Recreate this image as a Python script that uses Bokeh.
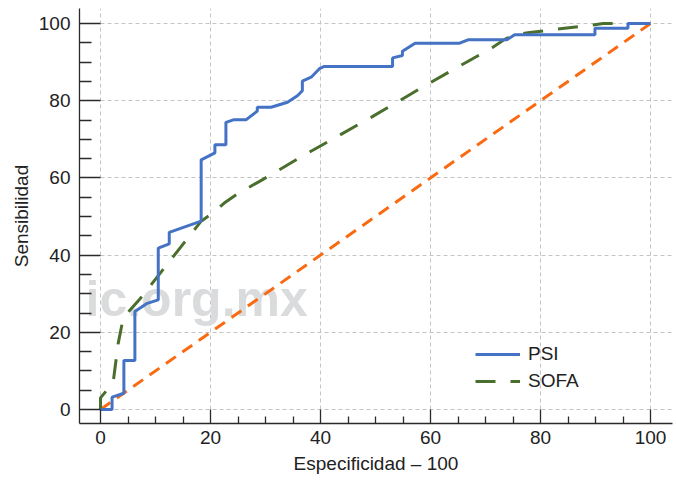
from bokeh.plotting import figure
from bokeh.models import Range1d, FixedTicker, Legend, LegendItem, Label
from bokeh.embed import file_html
from bokeh.resources import INLINE

# ---- data ----
psi_x = [0, 2.1, 2.1, 4.25, 4.25, 6.25, 6.25, 8.5, 10.5, 10.5, 12.5, 12.5, 18.3, 18.3,
         20.8, 20.8, 22.8, 22.8, 24.3, 26.5, 28.5, 28.5, 31.0, 34.0, 35.8, 36.7, 36.7,
         38.3, 39.8, 40.7, 53.1, 53.1, 54.9, 54.9, 57.2, 65.3, 66.8, 73.9, 75.3, 89.9,
         89.9, 95.9, 95.9, 100]
psi_y = [0, 0, 3.2, 4.2, 12.7, 12.7, 25.4, 27.5, 28.4, 41.8, 42.9, 45.9, 48.8, 64.7,
         66.5, 68.6, 68.6, 74.4, 75.1, 75.1, 77.3, 78.3, 78.3, 79.6, 81.3, 82.6, 85.1,
         86.1, 88.3, 88.9, 88.9, 91.1, 91.7, 92.8, 94.9, 94.9, 95.8, 95.8, 97.1, 97.1,
         98.8, 98.8, 100, 100]

sofa_x = [0, 0, 2.3, 3.2, 4.1, 5.0, 7.2, 18.3, 20.6, 22.5, 24.9, 29.4, 36.4, 49.2,
          60.1, 71.4, 73.5, 75.3, 77.7, 85.6, 89.3, 91.4, 100]
sofa_y = [0, 3, 7, 17, 23.5, 25.2, 28.7, 48.8, 51.1, 53.5, 55.9, 59.5, 65.4, 75.7,
          84.8, 93.9, 95.9, 97.1, 97.6, 99.0, 99.6, 100, 100]

ref_x = [0, 100]
ref_y = [0, 100]

x_ticks = [0, 20, 40, 60, 80, 100]
y_ticks = [0, 20, 40, 60, 80, 100]
minor_ticks = [5, 10, 15, 25, 30, 35, 45, 50, 55, 65, 70, 75, 85, 90, 95]

series_labels = ["PSI", "SOFA"]
x_label = "Especificidad \u2013 100"
y_label = "Sensibilidad"
watermark = "ic.org.mx"   # visible (in-frame) part of the cropped watermark

FONT = "Liberation Sans"

p = figure(width=676, height=480, output_backend="svg", toolbar_location=None,
           x_range=Range1d(-3.82, 104.0), y_range=Range1d(-3.63, 103.9),
           min_border_left=79, min_border_right=4, min_border_top=8,
           min_border_bottom=57)
p.outline_line_color = None
p.background_fill_color = "white"

# watermark beneath the curves
p.add_layout(Label(x=6, y=125, x_units="screen", y_units="screen", text=watermark,
                   text_font=FONT, text_font_style="bold", text_font_size="50px",
                   text_color="#dadbdd", text_baseline="alphabetic", level="underlay"))

r_ref = p.line(ref_x, ref_y, line_color="#f96a12", line_width=3, line_dash="12 8")
r_sofa = p.line(sofa_x, sofa_y, line_color="#4a6e2c", line_width=3, line_dash="20 15")
r_psi = p.line(psi_x, psi_y, line_color="#4472c4", line_width=3)

# axes
for ax, ticks in ((p.xaxis[0], x_ticks), (p.yaxis[0], y_ticks)):
    ax.ticker = FixedTicker(ticks=ticks, minor_ticks=minor_ticks)
    ax.axis_line_color = "#2a2a2a"
    ax.axis_line_width = 1.3
    ax.major_tick_line_color = "#2a2a2a"
    ax.minor_tick_line_color = "#2a2a2a"
    ax.major_tick_line_width = 1.3
    ax.minor_tick_line_width = 1.3
    ax.major_tick_out = 0
    ax.minor_tick_out = 0
    ax.major_label_text_font = FONT
    ax.major_label_text_font_size = "19px"
    ax.major_label_text_color = "#222222"
    ax.axis_label_text_font = FONT
    ax.axis_label_text_font_size = "19px"
    ax.axis_label_text_font_style = "normal"
    ax.axis_label_text_color = "#222222"

p.xaxis.major_label_standoff = 7
p.yaxis.major_label_standoff = 9
p.xaxis.major_tick_in = 14
p.xaxis.minor_tick_in = 7
p.yaxis.major_tick_in = 21
p.yaxis.minor_tick_in = 12
p.xaxis.axis_label = x_label
p.yaxis.axis_label = y_label
p.xaxis.axis_label_standoff = 6
p.yaxis.axis_label_standoff = 4

p.grid.grid_line_color = "#c4c4c4"
p.grid.grid_line_dash = "4 3"
p.grid.grid_line_width = 1
p.xgrid.ticker = FixedTicker(ticks=x_ticks)
p.ygrid.ticker = FixedTicker(ticks=y_ticks)

legend = Legend(items=[LegendItem(label=series_labels[0], renderers=[r_psi]),
                       LegendItem(label=series_labels[1], renderers=[r_sofa])],
                location=(396, 31), padding=0, margin=0, spacing=5,
                glyph_width=45, glyph_height=20, label_height=20, label_standoff=8,
                background_fill_alpha=0, border_line_alpha=0,
                label_text_font=FONT, label_text_font_size="19px",
                label_text_color="#222222")
p.add_layout(legend)

open("out.html", "w").write(file_html(p, INLINE))
